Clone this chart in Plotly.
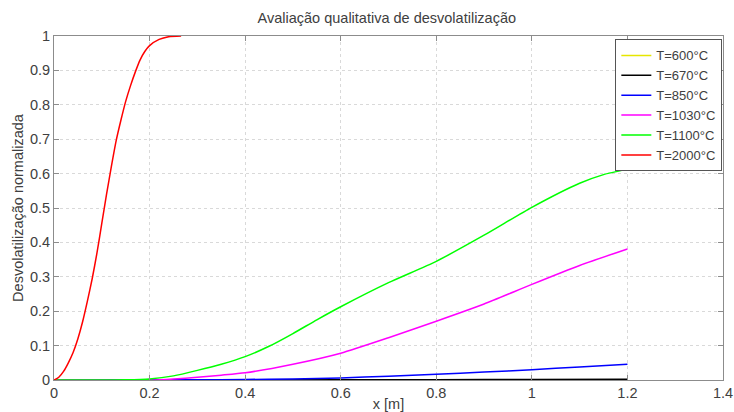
import plotly.graph_objects as go

# Data
x_600 = [0, 0.4, 0.8, 1.0, 1.2]
y_600 = [0, 0.0001, 0.0002, 0.0003, 0.0005]

x_670 = [0, 0.6, 0.8, 1.0, 1.2]
y_670 = [0, 0.0005, 0.001, 0.0015, 0.0025]

x_850 = [0, 0.3, 0.4, 0.5, 0.6, 0.7, 0.8, 0.9, 1.0, 1.1, 1.2]
y_850 = [0, 0.0005, 0.0015, 0.003, 0.006, 0.011, 0.017, 0.023, 0.030, 0.038, 0.046]

x_1030 = [0, 0.2, 0.25, 0.3, 0.35, 0.4, 0.5, 0.6, 0.7, 0.8, 0.9, 1.0, 1.1, 1.2]
y_1030 = [0, 0, 0.003, 0.008, 0.014, 0.021, 0.046, 0.078, 0.123, 0.171, 0.221, 0.278, 0.333, 0.381]

x_1100 = [0, 0.1, 0.15, 0.2, 0.25, 0.3, 0.35, 0.4, 0.45, 0.5, 0.55, 0.6, 0.7, 0.8, 0.9, 1.0, 1.1, 1.15, 1.2]
y_1100 = [0, 0, 0.0005, 0.003, 0.012, 0.028, 0.046, 0.068, 0.098, 0.135, 0.175, 0.213, 0.283, 0.345, 0.421, 0.502, 0.572, 0.597, 0.613]

x_2000 = [0, 0.01, 0.02, 0.03, 0.04, 0.05, 0.06, 0.07, 0.08, 0.09, 0.1, 0.11, 0.12, 0.13,
          0.14, 0.15, 0.16, 0.17, 0.18, 0.19, 0.2, 0.22, 0.24, 0.266]
y_2000 = [0, 0.008, 0.025, 0.05, 0.08, 0.12, 0.17, 0.23, 0.295, 0.37, 0.455, 0.54, 0.62, 0.695,
          0.755, 0.81, 0.855, 0.895, 0.93, 0.955, 0.972, 0.99, 0.998, 1.0]

series = [
    ("T=600°C", x_600, y_600, "#e6e600"),
    ("T=670°C", x_670, y_670, "#000000"),
    ("T=850°C", x_850, y_850, "#0000ff"),
    ("T=1030°C", x_1030, y_1030, "#ff00ff"),
    ("T=1100°C", x_1100, y_1100, "#00ff00"),
    ("T=2000°C", x_2000, y_2000, "#ff0000"),
]

x_ticks = [0, 0.2, 0.4, 0.6, 0.8, 1, 1.2, 1.4]
x_ticklabels = ["0", "0.2", "0.4", "0.6", "0.8", "1", "1.2", "1.4"]
y_ticks = [0, 0.1, 0.2, 0.3, 0.4, 0.5, 0.6, 0.7, 0.8, 0.9, 1]
y_ticklabels = ["0", "0.1", "0.2", "0.3", "0.4", "0.5", "0.6", "0.7", "0.8", "0.9", "1"]

fig = go.Figure()
for name, xs, ys, col in series:
    fig.add_trace(go.Scatter(x=xs, y=ys, mode="lines", name=name,
                             line=dict(color=col, width=1.5, shape="spline", smoothing=0.6)))

font = "Liberation Sans, Arial, sans-serif"
txt = "#404040"
axis_common = dict(
    showline=True, linecolor="#8c8c8c", linewidth=1, mirror="ticks",
    ticks="inside", ticklen=5, tickcolor="#8c8c8c",
    showgrid=True, gridcolor="#d9d9d9", griddash="dot", gridwidth=1,
    zeroline=False, automargin=False,
    tickfont=dict(family=font, size=14.5, color=txt),
)

fig.update_layout(
    width=734, height=412,
    margin=dict(l=54, r=11, t=36, b=32),
    paper_bgcolor="white", plot_bgcolor="white",
    title=dict(text="Avaliação qualitativa de desvolatilização",
               x=0.527, xanchor="center",
               y=0.956, yanchor="middle",
               font=dict(family=font, size=14.5, color=txt)),
    xaxis=dict(range=[0, 1.4], tickvals=x_ticks, ticktext=x_ticklabels,
               title=dict(text="x [m]", standoff=0,
                          font=dict(family=font, size=14.5, color=txt)),
               **axis_common),
    yaxis=dict(range=[0, 1], tickvals=y_ticks, ticktext=y_ticklabels,
               title=dict(text="Desvolatilização normalizada", standoff=2,
                          font=dict(family=font, size=14.5, color=txt)),
               **axis_common),
    legend=dict(x=0.999, xanchor="right", y=0.99, yanchor="top",
                bgcolor="white", bordercolor="#555555", borderwidth=1,
                font=dict(family=font, size=13, color=txt),
                tracegroupgap=0, itemwidth=30),
    showlegend=True,
)

fig.write_html("out.html",
               config={"displayModeBar": False},
               post_script="document.body.style.margin='0';document.body.style.overflow='hidden';")
